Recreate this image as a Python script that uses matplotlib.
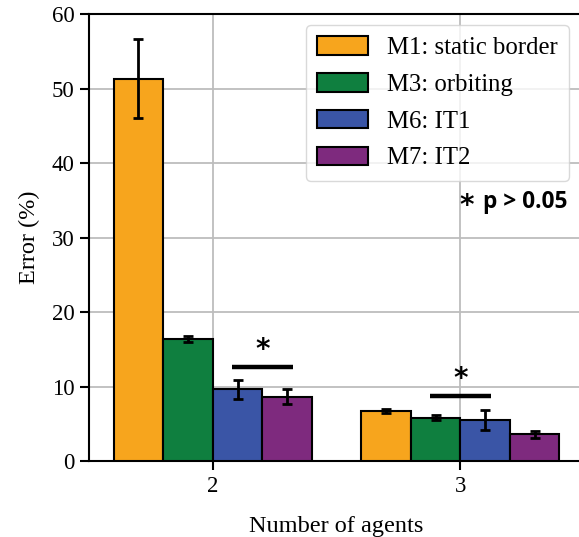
import matplotlib
matplotlib.use("Agg")
import matplotlib.pyplot as plt
import numpy as np

# Data
agents = [2, 3]
series = ["M1: static border", "M3: orbiting", "M6: IT1", "M7: IT2"]
m1_mean = [51.3, 6.7]
m1_err = [5.3, 0.3]
m3_mean = [16.4, 5.8]
m3_err = [0.4, 0.35]
m6_mean = [9.6, 5.5]
m6_err = [1.25, 1.35]
m7_mean = [8.6, 3.6]
m7_err = [1.0, 0.45]
sig_height = [12.6, 8.7]
note_text = "p > 0.05"

means = [m1_mean, m3_mean, m6_mean, m7_mean]
errs = [m1_err, m3_err, m6_err, m7_err]
colors = ["#F7A51D", "#0F7F3F", "#3A55A6", "#7E2A7E"]

plt.rcParams["font.family"] = ["Liberation Serif", "DejaVu Serif"]

fig = plt.figure(figsize=(5.79, 5.37), dpi=100)
ax = fig.add_axes([0.1537, 0.1415, 0.855, 0.8324])

w = 0.2
x = np.array(agents, dtype=float)
for i, (m, e, c, lab) in enumerate(zip(means, errs, colors, series)):
    ax.bar(x + (i - 1.5) * w, m, width=w, color=c, edgecolor="black",
           linewidth=1.5, label=lab, zorder=3,
           yerr=e, capsize=3.8,
           error_kw=dict(ecolor="black", elinewidth=2, capthick=2, zorder=4))

# significance brackets: blue/purple at 2 agents, green/blue at 3 agents
pairs = [(2, 3), (1, 2)]
for xi, (a, b), h in zip(x, pairs, sig_height):
    x0 = xi + (a - 1.5) * w - 0.022
    x1 = xi + (b - 1.5) * w + 0.025
    ax.plot([x0, x1], [h, h], color="black", linewidth=3.2, zorder=5,
            solid_capstyle="butt")
    ax.text((x0 + x1) / 2, h + 2.25, "*", ha="center", va="center",
            fontsize=20, fontweight="bold", family=["DejaVu Sans"], zorder=5)

ax.text(3.026, 34.2, "*", ha="center", va="center", fontsize=20,
        fontweight="bold", family=["DejaVu Sans"])
ax.text(3.093, 33.96, note_text, ha="left", va="baseline", fontsize=16.3,
        fontweight="bold", family=["Open Sans", "DejaVu Sans"])

ax.set_xlim(1.5, 3.5)
ax.set_ylim(0, 60)
ax.set_xticks(agents)
ax.set_yticks(range(0, 61, 10))
ax.tick_params(axis="both", labelsize=16.5, length=6.5, width=1.5,
               direction="out", pad=4)
ax.set_xlabel("Number of agents", fontsize=17.5, labelpad=14)
ax.set_ylabel("Error (%)", fontsize=17.5, labelpad=8)

ax.grid(True, color="#bdbdbd", linewidth=1.3, zorder=0)
ax.set_axisbelow(True)
for s in ["left", "top", "bottom", "right"]:
    ax.spines[s].set_linewidth(1.5)
    ax.spines[s].set_color("black")

leg = ax.legend(loc="upper right", bbox_to_anchor=(0.97, 0.975),
                borderaxespad=0, fontsize=17.8, frameon=True, fancybox=True,
                handlelength=2.05, handleheight=0.78, labelspacing=0.56,
                borderpad=0.45, handletextpad=0.8)
leg.get_frame().set_edgecolor("#d0d0d0")
leg.get_frame().set_linewidth(1.0)

fig.savefig("out.png", dpi=100)
